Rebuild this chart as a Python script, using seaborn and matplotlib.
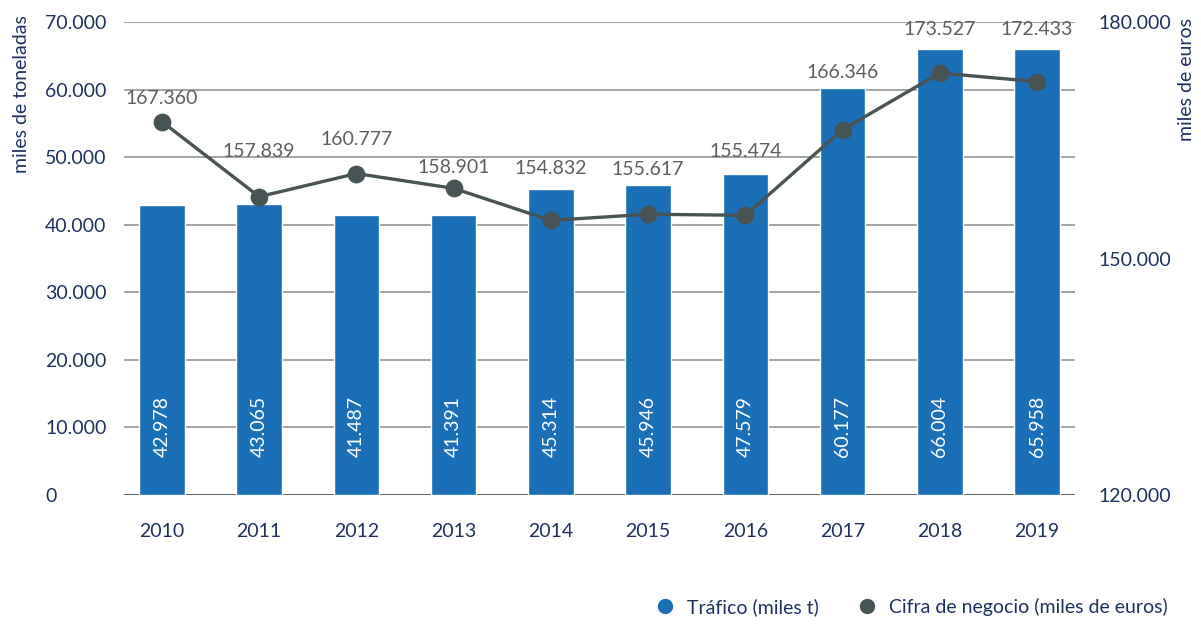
import matplotlib.pyplot as plt
import matplotlib.ticker as ticker
from matplotlib.lines import Line2D
import numpy as np
import pandas as pd
import seaborn as sns

sns.set_style('white')
plt.rcParams['font.family'] = ['Lato', 'DejaVu Sans']

years = ['2010', '2011', '2012', '2013', '2014', '2015', '2016', '2017', '2018', '2019']
trafico = [42978, 43065, 41487, 41391, 45314, 45946, 47579, 60177, 66004, 65958]
cifra = [167360, 157839, 160777, 158901, 154832, 155617, 155474, 166346, 173527, 172433]

# pixel offsets of the line labels above their points (style only)
label_offsets = [23, 45, 34, 21, 52, 45, 64, 57, 44, 52]

BAR_COLOR = '#1b6fb7'
LINE_COLOR = '#485354'
NAVY = '#1d3160'
GRAY_TXT = '#5a5f60'
PX = 0.72  # points per pixel at dpi 100

def fmt(v):
    return f'{v:,.0f}'.replace(',', '.')

df = pd.DataFrame({'year': years, 'trafico': trafico, 'cifra': cifra})

fig = plt.figure(figsize=(12.01, 6.24), dpi=100)
ax = fig.add_axes([124 / 1201, 129 / 624, 951 / 1201, 473 / 624])

sns.barplot(data=df, x='year', y='trafico', color=BAR_COLOR, width=0.47,
            saturation=1, ax=ax, zorder=2)
ax.set_ylim(0, 70000)
ax.set_xlim(-0.39, 9.39)
ax.yaxis.set_major_locator(ticker.MultipleLocator(10000))
ax.yaxis.set_major_formatter(ticker.FuncFormatter(lambda v, p: fmt(v)))
ax.grid(axis='y', color='#9a9c9e', linewidth=1.3, zorder=0)
ax.set_axisbelow(True)
for s in ax.spines.values():
    s.set_visible(False)
ax.axhline(0, color='#555a5c', linewidth=1.3, zorder=1)
ax.set_xlabel('')
ax.set_ylabel('')
ax.tick_params(axis='y', length=0, labelsize=14, labelcolor=NAVY, pad=(124 - 45) * PX)
ax.tick_params(axis='x', length=0, labelsize=14, labelcolor=NAVY, pad=28 * PX)
for lbl in ax.get_yticklabels():
    lbl.set_horizontalalignment('left')

for i, v in enumerate(trafico):
    ax.annotate(fmt(v), (i, 0), xytext=(0, 38), textcoords='offset pixels',
                rotation=90, ha='center', va='bottom', color='white',
                fontsize=14, zorder=5)

ax2 = ax.twinx()
sns.pointplot(data=df, x='year', y='cifra', color=LINE_COLOR, ax=ax2,
              markers='o', markersize=11, linewidth=2.4)
ax2.set_ylim(120000, 180000)
ax2.set_xlim(-0.39, 9.39)
ax2.yaxis.set_major_locator(ticker.MultipleLocator(30000))
ax2.yaxis.set_major_formatter(ticker.FuncFormatter(lambda v, p: fmt(v)))
ax2.tick_params(axis='y', length=0, labelsize=14, labelcolor=NAVY, pad=23 * PX)
ax2.set_ylabel('')
for s in ax2.spines.values():
    s.set_visible(False)
ax2.grid(False)

for i, v in enumerate(cifra):
    ax2.annotate(fmt(v), (i, v), xytext=(0, label_offsets[i]),
                 textcoords='offset pixels', ha='center', va='center',
                 color=GRAY_TXT, fontsize=14)

fig.text(22 / 1201, 1 - 15 / 624, 'miles de toneladas', rotation=90,
         ha='center', va='top', color=NAVY, fontsize=14)
fig.text(1187 / 1201, 1 - 18 / 624, 'miles de euros', rotation=90,
         ha='center', va='top', color=NAVY, fontsize=14)

handles = [
    Line2D([], [], linestyle='none', marker='o', markersize=10,
           markerfacecolor=BAR_COLOR, markeredgecolor=BAR_COLOR),
    Line2D([], [], linestyle='none', marker='o', markersize=10,
           markerfacecolor=LINE_COLOR, markeredgecolor=LINE_COLOR),
]
leg = fig.legend(handles, ['Tráfico (miles t)', 'Cifra de negocio (miles de euros)'],
                 loc='center right', bbox_to_anchor=(1185 / 1201, 1 - 607 / 624),
                 ncol=2, frameon=False, fontsize=14, handletextpad=0.6,
                 columnspacing=2.0, handlelength=1.0)
for t in leg.get_texts():
    t.set_color(NAVY)

fig.savefig('out.png', dpi=100)
